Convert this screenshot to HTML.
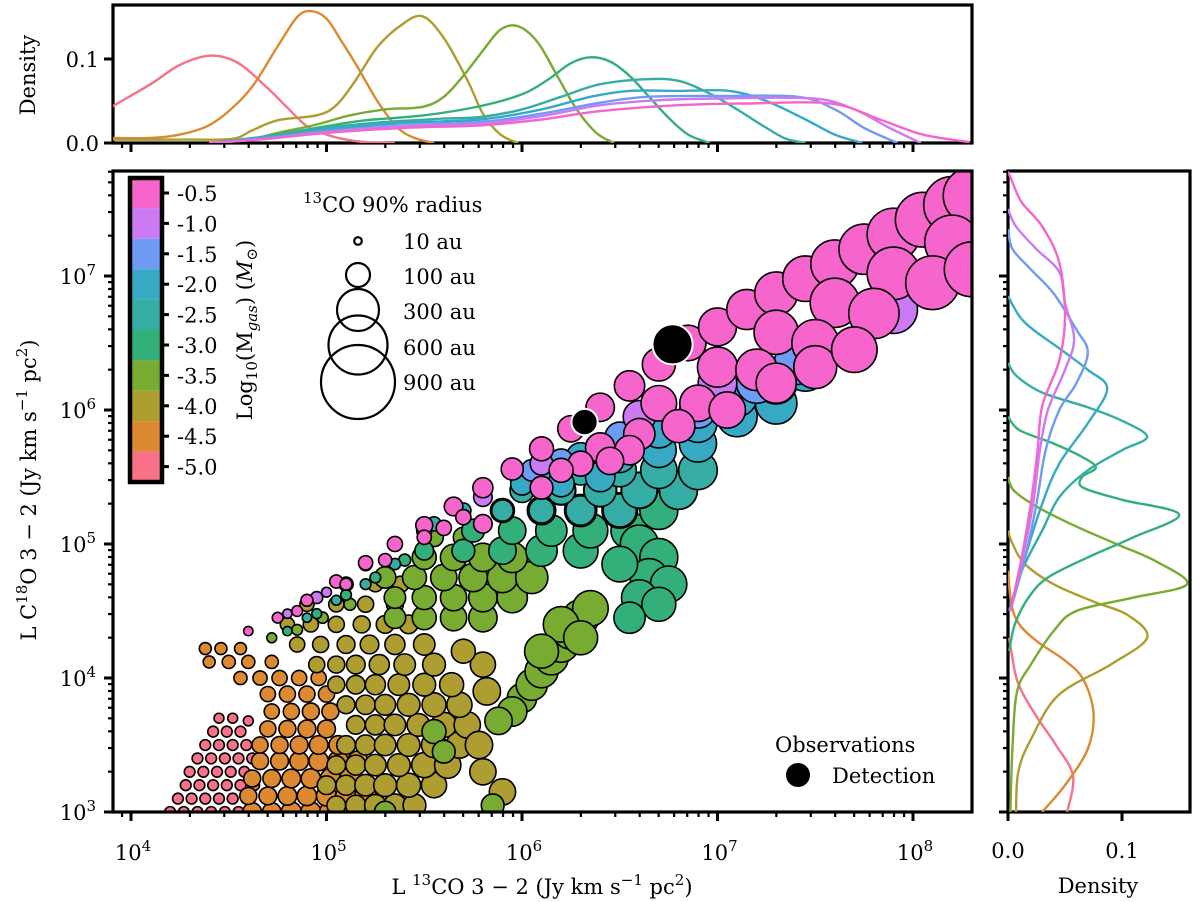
<!DOCTYPE html>
<html><head><meta charset="utf-8"><style>
html,body{margin:0;padding:0;background:#fff}
svg{display:block}
text{font-family:"DejaVu Serif","Liberation Serif",serif;fill:#000}
</style></head><body>
<svg id="chart" width="1200" height="902" viewBox="0 0 1200 902" xmlns="http://www.w3.org/2000/svg">
<g id="scatter"></g>
<g id="frames"></g>
<g id="kdeTop"></g>
<g id="kdeRight"></g>
<g id="ticks"></g>
</svg>
<script>
// ---- data ----
const massClasses=[-0.5,-1.0,-1.5,-2.0,-2.5,-3.0,-3.5,-4.0,-4.5,-5.0];
const classColors=['#f565cc','#cc7af4','#6e9bf4','#38a9c5','#36ada4','#33b07a','#77ab31','#ae9d31','#dc8932','#f77189'];
// scatter: [log10 L13CO, log10 LC18O, log10 Mgas, radius au]
const ptsM50=[[4.2,3.0,-5,20],[4.27,3.0,-5,20],[4.34,3.0,-5,20],[4.41,3.0,-5,20],[4.48,3.0,-5,20],[4.55,3.0,-5,20],
[4.24,3.1,-5,20],[4.31,3.1,-5,20],[4.38,3.1,-5,20],[4.45,3.1,-5,20],[4.52,3.1,-5,20],[4.59,3.1,-5,20],
[4.28,3.2,-5,20],[4.35,3.2,-5,20],[4.42,3.2,-5,20],[4.49,3.2,-5,20],[4.56,3.2,-5,20],[4.63,3.2,-5,20],
[4.3,3.3,-5,20],[4.37,3.3,-5,20],[4.44,3.3,-5,20],[4.51,3.3,-5,20],[4.58,3.3,-5,20],
[4.34,3.4,-5,20],[4.41,3.4,-5,20],[4.48,3.4,-5,20],[4.55,3.4,-5,20],[4.62,3.4,-5,20],
[4.38,3.5,-5,20],[4.45,3.5,-5,20],[4.52,3.5,-5,20],[4.59,3.5,-5,20],
[4.42,3.6,-5,20],[4.49,3.6,-5,20],[4.56,3.6,-5,20],[4.45,3.7,-5,17],[4.52,3.7,-5,17],[4.6,3.68,-5,17]];
const ptsM45=[[4.62,3.0,-4.5,60],[4.72,3.0,-4.5,60],[4.82,3.0,-4.5,70],[4.92,3.0,-4.5,70],[5.02,3.0,-4.5,80],[5.12,3.0,-4.5,80],
[4.6,3.12,-4.5,50],[4.7,3.12,-4.5,55],[4.8,3.12,-4.5,60],[4.9,3.12,-4.5,65],[5.0,3.12,-4.5,70],[5.1,3.12,-4.5,75],[5.2,3.12,-4.5,80],
[4.62,3.25,-4.5,50],[4.72,3.25,-4.5,55],[4.82,3.25,-4.5,60],[4.92,3.25,-4.5,65],[5.02,3.25,-4.5,70],[5.12,3.25,-4.5,75],
[4.66,3.38,-4.5,50],[4.76,3.38,-4.5,55],[4.86,3.38,-4.5,60],[4.96,3.38,-4.5,65],[5.06,3.38,-4.5,70],[5.16,3.38,-4.5,70],
[4.66,3.5,-4.5,45],[4.76,3.5,-4.5,50],[4.86,3.5,-4.5,55],[4.96,3.5,-4.5,60],[5.06,3.5,-4.5,60],
[4.7,3.62,-4.5,45],[4.8,3.62,-4.5,50],[4.9,3.62,-4.5,55],[5.0,3.62,-4.5,55],
[4.72,3.75,-4.5,40],[4.82,3.75,-4.5,45],[4.92,3.75,-4.5,50],[5.02,3.75,-4.5,50],
[4.7,3.88,-4.5,40],[4.8,3.88,-4.5,45],[4.9,3.88,-4.5,45],[5.0,3.88,-4.5,45],
[4.56,4.0,-4.5,30],[4.66,4.0,-4.5,35],[4.76,4.0,-4.5,40],[4.86,4.0,-4.5,40],[4.96,4.0,-4.5,40],
[4.4,4.12,-4.5,25],[4.5,4.12,-4.5,30],[4.6,4.12,-4.5,30],[4.72,4.12,-4.5,30],[4.38,4.22,-4.5,25],[4.46,4.22,-4.5,25],[4.56,4.22,-4.5,25]];
const ptsM40=[[5.05,3.05,-4,60],[5.15,3.05,-4,70],[5.25,3.05,-4,80],[5.35,3.05,-4,90],[5.45,3.05,-4,90],
[5.0,3.2,-4,60],[5.1,3.2,-4,70],[5.2,3.2,-4,80],[5.3,3.2,-4,90],[5.42,3.2,-4,100],[5.55,3.2,-4,110],
[5.05,3.35,-4,60],[5.15,3.35,-4,70],[5.25,3.35,-4,80],[5.37,3.35,-4,90],[5.5,3.35,-4,110],[5.62,3.35,-4,120],
[5.1,3.5,-4,60],[5.2,3.5,-4,70],[5.3,3.5,-4,80],[5.42,3.5,-4,90],[5.55,3.5,-4,110],[5.68,3.5,-4,120],
[5.15,3.65,-4,60],[5.25,3.65,-4,70],[5.35,3.65,-4,80],[5.47,3.65,-4,90],[5.6,3.65,-4,110],[5.72,3.65,-4,120],
[5.1,3.8,-4,55],[5.2,3.8,-4,65],[5.3,3.8,-4,75],[5.42,3.8,-4,90],[5.55,3.8,-4,100],[5.68,3.8,-4,110],
[5.05,3.95,-4,50],[5.15,3.95,-4,60],[5.25,3.95,-4,70],[5.37,3.95,-4,80],[5.5,3.95,-4,90],[5.64,3.95,-4,100],
[4.95,4.1,-4,45],[5.05,4.1,-4,50],[5.15,4.1,-4,60],[5.27,4.1,-4,70],[5.4,4.1,-4,80],[5.55,4.1,-4,90],
[4.85,4.25,-4,40],[4.97,4.25,-4,45],[5.1,4.25,-4,55],[5.22,4.25,-4,60],[5.35,4.25,-4,70],[5.5,4.25,-4,80],
[4.8,4.4,-4,35],[4.92,4.4,-4,40],[5.05,4.4,-4,45],[5.18,4.4,-4,50],[5.3,4.4,-4,55],[5.42,4.4,-4,60],
[4.9,4.55,-4,35],[5.05,4.55,-4,40],[5.2,4.55,-4,45],[5.35,4.55,-4,50],[5.1,4.7,-4,35],[5.25,4.7,-4,40],[5.38,4.7,-4,45],
[5.8,3.3,-4,120],[5.9,3.15,-4,120],[5.78,3.5,-4,130],[5.82,3.9,-4,130],[5.8,4.1,-4,110],[5.7,4.2,-4,100]];
const ptsM35=[[5.35,4.45,-3.5,80],[5.5,4.45,-3.5,100],[5.65,4.45,-3.5,120],[5.8,4.45,-3.5,140],
[5.35,4.6,-3.5,80],[5.5,4.6,-3.5,100],[5.65,4.6,-3.5,120],[5.8,4.6,-3.5,140],[5.95,4.6,-3.5,160],
[5.3,4.75,-3.5,80],[5.45,4.75,-3.5,100],[5.6,4.75,-3.5,120],[5.75,4.75,-3.5,140],[5.9,4.75,-3.5,160],[6.05,4.75,-3.5,180],
[5.5,4.9,-3.5,100],[5.65,4.9,-3.5,120],[5.8,4.9,-3.5,140],[5.95,4.9,-3.5,160],
[5.55,5.05,-3.5,60],[5.7,5.05,-3.5,70],
[4.72,4.3,-3.5,17],[4.85,4.36,-3.5,20],[4.98,4.45,-3.5,22],[5.12,4.55,-3.5,25],
[6.0,3.85,-3.5,150],[6.05,3.95,-3.5,170],[6.1,4.05,-3.5,190],[6.15,4.15,-3.5,200],[6.2,4.25,-3.5,220],[6.25,4.35,-3.5,230],[6.3,4.45,-3.5,230],[6.35,4.52,-3.5,220],[6.2,4.4,-3.5,220],[6.1,4.2,-3.5,200],[5.95,3.75,-3.5,150],[5.88,3.68,-3.5,130],[6.3,4.3,-3.5,200],
[5.55,3.6,-3.5,100],[5.6,3.45,-3.5,90],[5.85,3.05,-3.5,90],[5.3,3.0,-3.5,80]];
const ptsM30=[[5.5,4.95,-3,60],[5.7,4.95,-3,90],[5.9,4.95,-3,130],[6.1,4.95,-3,170],[6.3,4.95,-3,210],
[5.75,5.1,-3,90],[5.95,5.1,-3,130],[6.15,5.1,-3,170],[6.35,5.1,-3,210],[6.55,5.1,-3,240],
[5.9,5.25,-3,100],[6.1,5.25,-3,140],[6.3,5.25,-3,180],[6.5,5.25,-3,220],[6.7,5.25,-3,250],
[6.2,5.4,-3,150],[6.4,5.4,-3,190],[6.6,5.4,-3,230],[6.8,5.4,-3,250],
[6.6,5.0,-3,250],[6.7,4.9,-3,250],[6.65,4.75,-3,250],[6.75,4.7,-3,230],[6.6,4.6,-3,220],[6.7,4.55,-3,200],[6.55,4.45,-3,170],[6.5,4.85,-3,220],
[4.8,4.35,-3,15],[4.95,4.48,-3,17],[5.1,4.62,-3,20],[5.25,4.75,-3,20],[5.4,4.88,-3,25]];
const ptsM25=[[5.9,5.25,-2.5,80],[6.1,5.25,-2.5,110],[6.3,5.25,-2.5,150],[6.5,5.25,-2.5,190],
[6.0,5.4,-2.5,100],[6.2,5.4,-2.5,140],[6.4,5.4,-2.5,180],[6.6,5.4,-2.5,220],[6.8,5.4,-2.5,250],
[6.1,5.55,-2.5,110],[6.3,5.55,-2.5,150],[6.5,5.55,-2.5,190],[6.7,5.55,-2.5,230],[6.9,5.55,-2.5,260],
[5.55,5.15,-2.5,35],[5.7,5.25,-2.5,40],
[4.9,4.45,-2.5,15],[5.05,4.58,-2.5,17],[5.2,4.7,-2.5,20],[5.35,4.85,-2.5,22]];
const ptsM20=[[6.0,5.45,-2,90],[6.2,5.45,-2,120],[6.4,5.5,-2,150],
[6.3,5.65,-2,140],[6.5,5.65,-2,170],[6.7,5.7,-2,210],[6.9,5.75,-2,240],
[6.7,5.85,-2,220],[6.9,5.9,-2,250],[7.1,5.95,-2,280],[7.3,6.05,-2,300],
[7.1,6.1,-2,280],[7.3,6.2,-2,300],[7.45,6.3,-2,320]];
const ptsM15=[[6.05,5.55,-1.5,80],[6.2,5.62,-1.5,100],[6.5,5.8,-1.5,150],[6.9,6.0,-1.5,230],[7.2,6.2,-1.5,280],[7.4,6.35,-1.5,320]];
const ptsM10=[[4.8,4.48,-1,15],[5.0,4.64,-1,17],[4.95,4.6,-1,25],[5.2,4.85,-1,30],[5.5,5.1,-1,40],[5.8,5.35,-1,60],[6.1,5.6,-1,90],[6.6,5.95,-1,180],[7.0,6.2,-1,260],[7.5,6.5,-1,340],[7.9,6.75,-1,400]];
const ptsM05=[[4.75,4.45,-0.5,20],[4.9,4.58,-0.5,25],[5.05,4.72,-0.5,30],[5.2,4.86,-0.5,35],[5.35,5.0,-0.5,40],[5.5,5.14,-0.5,50],[5.65,5.28,-0.5,60],[5.8,5.42,-0.5,70],[5.95,5.56,-0.5,85],[6.1,5.71,-0.5,100],[6.25,5.86,-0.5,120],[6.4,6.02,-0.5,140],[6.55,6.18,-0.5,160],[6.7,6.34,-0.5,190],[6.85,6.5,-0.5,220],[7.0,6.62,-0.5,250],[7.15,6.75,-0.5,280],[7.3,6.87,-0.5,320],[7.45,6.98,-0.5,360],[7.6,7.09,-0.5,400],[7.75,7.2,-0.5,440],[7.9,7.31,-0.5,480],[8.05,7.42,-0.5,520],[8.2,7.53,-0.5,560],[8.3,7.6,-0.5,560],
[5.8,5.15,-0.5,60],[6.1,5.42,-0.5,90],[6.4,5.72,-0.5,150],[6.7,6.05,-0.5,220],[7.0,6.32,-0.5,280],[7.3,6.58,-0.5,340],[7.6,6.8,-0.5,420],[7.9,7.02,-0.5,480],[8.2,7.25,-0.5,520],
[6.6,5.82,-0.5,170],[6.9,6.05,-0.5,230],[7.2,6.3,-0.5,300],[7.5,6.5,-0.5,380],[7.8,6.72,-0.5,440],[8.1,6.95,-0.5,500],[8.3,7.05,-0.5,520],
[6.3,5.6,-0.5,110],[6.55,5.7,-0.5,150],[6.8,5.88,-0.5,190],[7.05,6.0,-0.5,230],[6.2,5.55,-0.5,100],[6.45,5.62,-0.5,130],
[7.3,6.2,-0.5,280],[7.5,6.32,-0.5,320],[7.7,6.45,-0.5,360],
[4.6,4.35,-0.5,15],[4.85,4.5,-0.5,20],[5.1,4.7,-0.5,25],[5.3,4.88,-0.5,30],[5.5,5.05,-0.5,35],[5.7,5.2,-0.5,40],[5.6,5.12,-0.5,40]];
const detections=[[6.32,5.91,120],[6.77,6.49,280]];
// top KDE
const topX={red:[3.9,4.1,4.25,4.41,4.55,4.7,4.8,4.9,5.0,5.1,5.2,5.35],orange:[3.9,4.1,4.25,4.39,4.5,4.62,4.75,4.85,4.92,5.0,5.08,5.16,5.26,5.36,5.45,5.55],olive:[3.9,4.3,4.52,4.62,4.75,4.95,5.05,5.15,5.26,5.38,5.49,5.6,5.72,5.8,5.89,5.98],g35:[4.4,4.6,4.75,4.95,5.12,5.3,5.49,5.6,5.7,5.8,5.89,5.98,6.08,6.18,6.28,6.38,6.47],g30:[4.4,4.6,4.8,5.0,5.2,5.5,5.79,6.0,6.13,6.25,6.35,6.45,6.55,6.65,6.75,6.85,6.96],teal:[4.4,4.7,5.0,5.3,5.6,5.79,6.0,6.2,6.4,6.64,6.8,6.95,7.1,7.25,7.35,7.45],cyan:[4.4,4.7,5.0,5.4,5.79,6.1,6.35,6.55,6.8,7.06,7.25,7.45,7.6,7.74],blue:[4.4,4.7,5.0,5.4,5.79,6.1,6.4,6.64,7.0,7.41,7.6,7.75,7.92],violet:[4.4,4.7,5.0,5.4,5.79,6.1,6.4,6.7,7.0,7.49,7.7,7.88,8.04],pink:[4.4,4.7,5.0,5.4,5.79,6.1,6.4,6.8,7.15,7.58,7.83,8.05,8.29]};
const topD={red:[.043,.07,.093,.104,.095,.065,.042,.02,.01,.004,.001,0],orange:[.006,.006,.01,.02,.038,.067,.115,.15,.157,.148,.12,.09,.05,.019,.006,0],olive:[.004,.004,.005,.015,.027,.033,.045,.075,.114,.14,.151,.125,.075,.035,.01,0],g35:[0,.004,.012,.022,.033,.04,.043,.055,.08,.11,.135,.139,.12,.08,.04,.012,0],g30:[0,.005,.012,.02,.027,.033,.044,.058,.075,.095,.102,.097,.08,.055,.03,.01,0],teal:[0,.008,.018,.025,.029,.031,.04,.055,.07,.076,.074,.06,.04,.018,.005,0],cyan:[0,.007,.016,.024,.028,.04,.055,.062,.062,.062,.05,.028,.01,0],blue:[0,.006,.014,.021,.025,.035,.048,.055,.056,.055,.04,.018,0],violet:[0,.005,.013,.02,.023,.032,.045,.051,.053,.053,.04,.018,0],pink:[0,.005,.012,.018,.021,.028,.038,.045,.047,.047,.028,.01,.001]};
// right KDE
const rightY={red:[3.0,3.27,3.5,3.7,3.9,4.05,4.3],orange:[3.0,3.2,3.47,3.74,3.99,4.13,4.27,4.4,4.55,4.8],olive:[3.0,3.3,3.54,3.87,4.1,4.3,4.47,4.57,4.7,4.85,5.0,5.1],g35:[3.0,3.5,3.9,4.1,4.35,4.5,4.6,4.7,4.87,5.0,5.15,5.28,5.4,5.5],g30:[4.2,4.4,4.6,4.75,4.9,5.05,5.22,5.33,5.42,5.5,5.57,5.65,5.75,5.85,5.95],teal:[4.5,4.8,5.1,5.35,5.55,5.7,5.8,5.92,6.02,6.13,6.25,6.35],cyan:[4.5,4.9,5.3,5.6,5.9,6.16,6.3,6.46,6.6,6.7,6.85],blue:[4.5,4.9,5.3,5.7,6.0,6.2,6.43,6.6,6.87,7.05,7.2,7.35],violet:[4.5,4.9,5.3,5.7,6.0,6.3,6.53,6.8,7.03,7.2,7.37,7.5],pink:[4.5,4.9,5.3,5.7,6.03,6.37,6.7,7.1,7.37,7.55,7.72,7.78]};
const rightD={red:[.052,.057,.042,.026,.012,.006,.001],orange:[.03,.05,.07,.075,.066,.05,.026,.01,.003,0],olive:[.007,.009,.02,.044,.09,.122,.105,.075,.04,.015,.004,0],g35:[.002,.004,.008,.02,.04,.06,.11,.157,.13,.095,.055,.025,.005,0],g30:[.001,.006,.018,.035,.07,.11,.15,.1,.066,.065,.077,.065,.04,.01,0],teal:[.001,.012,.03,.045,.07,.1,.122,.1,.07,.03,.008,0],cyan:[.002,.015,.03,.045,.07,.087,.07,.045,.022,.01,0],blue:[.002,.015,.025,.033,.045,.06,.07,.06,.04,.02,.004,0],violet:[.002,.013,.022,.028,.035,.05,.058,.05,.045,.025,.007,0],pink:[.002,.012,.02,.026,.03,.045,.05,.045,.03,.012,.003,0]};
const kdeOrder=['red','orange','olive','g35','g30','teal','cyan','blue','violet','pink'];
const kdeColors={red:'#f77189',orange:'#dc8932',olive:'#ae9d31',g35:'#77ab31',g30:'#33b07a',teal:'#36ada4',cyan:'#38a9c5',blue:'#6e9bf4',violet:'#cc7af4',pink:'#f565cc'};
const xTickExp=[4,5,6,7,8];
const yTickExp=[3,4,5,6,7];

// ---- axes ----
const NS='http://www.w3.org/2000/svg';
const X0=131,DEC=195.5;
const xs=l=>X0+(l-4)*DEC;
const ys=l=>812-(l-3)*134;
const topY=d=>143-d*840;
const rightX=d=>1008+d*1140;
const rad=au=>1.2*Math.sqrt(au);
function mk(tag,attrs,parent){const e=document.createElementNS(NS,tag);for(const k in attrs)e.setAttribute(k,attrs[k]);parent.appendChild(e);return e;}
function colorFor(m){return classColors[massClasses.indexOf(m)];}
function smooth(pts){let d='M'+pts[0][0].toFixed(1)+','+pts[0][1].toFixed(1);
 for(let i=0;i<pts.length-1;i++){const p0=pts[Math.max(0,i-1)],p1=pts[i],p2=pts[i+1],p3=pts[Math.min(pts.length-1,i+2)];
 const c1=[p1[0]+(p2[0]-p0[0])/6,p1[1]+(p2[1]-p0[1])/6],c2=[p2[0]-(p3[0]-p1[0])/6,p2[1]-(p3[1]-p1[1])/6];
 d+='C'+c1.map(v=>v.toFixed(1)).join(',')+' '+c2.map(v=>v.toFixed(1)).join(',')+' '+p2[0].toFixed(1)+','+p2[1].toFixed(1);}return d;}

const defs=mk('defs',{},document.getElementById('chart'));
const cp=mk('clipPath',{id:'mainclip'},defs);mk('rect',{x:113,y:171,width:859,height:641},cp);
const cpt=mk('clipPath',{id:'topclip'},defs);mk('rect',{x:113,y:5,width:859,height:138},cpt);
const cpr=mk('clipPath',{id:'rightclip'},defs);mk('rect',{x:1008,y:171,width:182,height:641},cpr);

const sc=document.getElementById('scatter');sc.setAttribute('clip-path','url(#mainclip)');
const allSeries=[ptsM50,ptsM45,ptsM40,ptsM35,ptsM30,ptsM25,ptsM20,ptsM15,ptsM10,ptsM05];
allSeries.forEach(series=>series.forEach(p=>{
 const c=mk('circle',{cx:xs(p[0]),cy:ys(p[1]),r:rad(p[3]),fill:colorFor(p[2]),stroke:'#000','stroke-width':1.6},sc);
 
 
}));
detections.forEach(p=>{
 const c=mk('circle',{cx:xs(p[0]),cy:ys(p[1]),r:rad(p[2]),fill:'#000',stroke:'#fff','stroke-width':2},sc);
 
 
});

const kt=document.getElementById('kdeTop');kt.setAttribute('clip-path','url(#topclip)');
kdeOrder.forEach(k=>{const pts=topX[k].map((x,i)=>[xs(x),topY(topD[k][i])]);
 const p=mk('path',{d:smooth(pts),fill:'none',stroke:kdeColors[k],'stroke-width':2.4},kt);
 
 });
const kr=document.getElementById('kdeRight');kr.setAttribute('clip-path','url(#rightclip)');
kdeOrder.forEach(k=>{const pts=rightY[k].map((y,i)=>[rightX(rightD[k][i]),ys(y)]);
 const p=mk('path',{d:smooth(pts),fill:'none',stroke:kdeColors[k],'stroke-width':2.4},kr);
 
 });

const fr=document.getElementById('frames');
[[113,171,859,641,'main-frame'],[113,5,859,138,'top-frame'],[1008,171,182,641,'right-frame']].forEach(f=>{
 const r=mk('rect',{x:f[0],y:f[1],width:f[2],height:f[3],fill:'none',stroke:'#000','stroke-width':3.2},fr);
 });

const tk=document.getElementById('ticks');
function line(x1,y1,x2,y2,w){mk('line',{x1,y1,x2,y2,stroke:'#000','stroke-width':w},tk);}
function sup(x,y,base,exp,anchor){const t=mk('text',{x,y,'font-size':21,'text-anchor':anchor},tk);t.textContent=base;
 const s=mk('tspan',{'font-size':15,dy:-9},t);s.textContent=exp;return t;}
const xMin=3.908,xMax=8.30;
for(let e=3;e<=8;e++)for(let m=1;m<10;m++){const l=e+Math.log10(m);if(l<xMin||l>xMax)continue;
 const x=xs(l),len=m==1?9:5,w=m==1?3:2.2;line(x,812,x,812+len,w);line(x,143,x,143+len,w);}
xTickExp.forEach(e=>{const t=sup(xs(e)+2,860,'10',e,'middle');});
for(let e=3;e<=7;e++)for(let m=1;m<10;m++){const l=e+Math.log10(m);if(l>7.78)continue;
 const y=ys(l),len=m==1?9:5,w=m==1?3:2.2;line(113-len,y,113,y,w);line(1008-len,y,1008,y,w);}
yTickExp.forEach(e=>{const t=sup(96,ys(e)+8,'10',e,'end');});
[[0,'0.0'],[0.1,'0.1']].forEach(d=>{line(104,topY(d[0]),113,topY(d[0]),3);
 const t=mk('text',{x:99,y:topY(d[0])+8,'font-size':21,'text-anchor':'end'},tk);t.textContent=d[1];
 line(rightX(d[0]),812,rightX(d[0]),821,3);
 const t2=mk('text',{x:rightX(d[0]),y:858,'font-size':21,'text-anchor':'middle'},tk);t2.textContent=d[1];});
</script>
<svg style="position:absolute;left:0;top:0" width="1200" height="902" xmlns="http://www.w3.org/2000/svg">
<text x="542" y="894" font-size="21" text-anchor="middle" font-family="DejaVu Serif, serif">L <tspan font-size="15" dy="-9">13</tspan><tspan dy="9">CO 3 − 2 (Jy km s</tspan><tspan font-size="15" dy="-9">−1</tspan><tspan dy="9"> pc</tspan><tspan font-size="15" dy="-9">2</tspan><tspan dy="9">)</tspan></text>
<text transform="translate(36,490) rotate(-90)" font-size="21" text-anchor="middle" font-family="DejaVu Serif, serif">L C<tspan font-size="15" dy="-9">18</tspan><tspan dy="9">O 3 − 2 (Jy km s</tspan><tspan font-size="15" dy="-9">−1</tspan><tspan dy="9"> pc</tspan><tspan font-size="15" dy="-9">2</tspan><tspan dy="9">)</tspan></text>
<text transform="translate(35,75) rotate(-90)" font-size="21" text-anchor="middle" font-family="DejaVu Serif, serif">Density</text>
<text x="1098" y="893" font-size="21" text-anchor="middle" font-family="DejaVu Serif, serif">Density</text>
<g>
<rect x="130" y="178" width="32" height="30.4" fill="#f565cc"/><rect x="130" y="208.4" width="32" height="30.4" fill="#cc7af4"/><rect x="130" y="238.8" width="32" height="30.4" fill="#6e9bf4"/><rect x="130" y="269.2" width="32" height="30.4" fill="#38a9c5"/><rect x="130" y="299.6" width="32" height="30.4" fill="#36ada4"/><rect x="130" y="330" width="32" height="30.4" fill="#33b07a"/><rect x="130" y="360.4" width="32" height="30.4" fill="#77ab31"/><rect x="130" y="390.8" width="32" height="30.4" fill="#ae9d31"/><rect x="130" y="421.2" width="32" height="30.4" fill="#dc8932"/><rect x="130" y="451.6" width="32" height="30.4" fill="#f77189"/>
<rect x="130" y="178" width="32" height="304" fill="none" stroke="#000" stroke-width="4.5"/>
<g stroke="#000" stroke-width="3"><line x1="162" y1="193" x2="169" y2="193"/><line x1="162" y1="223.4" x2="169" y2="223.4"/><line x1="162" y1="253.8" x2="169" y2="253.8"/><line x1="162" y1="284.2" x2="169" y2="284.2"/><line x1="162" y1="314.6" x2="169" y2="314.6"/><line x1="162" y1="345" x2="169" y2="345"/><line x1="162" y1="375.4" x2="169" y2="375.4"/><line x1="162" y1="405.8" x2="169" y2="405.8"/><line x1="162" y1="436.2" x2="169" y2="436.2"/><line x1="162" y1="466.6" x2="169" y2="466.6"/></g>
<g font-size="21" font-family="DejaVu Serif, serif"><text x="177" y="201">-0.5</text><text x="177" y="231.4">-1.0</text><text x="177" y="261.8">-1.5</text><text x="177" y="292.2">-2.0</text><text x="177" y="322.6">-2.5</text><text x="177" y="353">-3.0</text><text x="177" y="383.4">-3.5</text><text x="177" y="413.8">-4.0</text><text x="177" y="444.2">-4.5</text><text x="177" y="474.6">-5.0</text></g>
<text transform="translate(252,330) rotate(-90)" font-size="21" text-anchor="middle" font-family="DejaVu Serif, serif">Log<tspan font-size="15" dy="5">10</tspan><tspan dy="-5">(M</tspan><tspan font-size="15" dy="5" font-style="italic">gas</tspan><tspan dy="-5">) (</tspan><tspan font-style="italic">M</tspan><tspan font-size="15" dy="5">⊙</tspan><tspan dy="-5">)</tspan></text>
</g>
<g font-family="DejaVu Serif, serif" font-size="21">
<text x="303" y="212"><tspan font-size="15" dy="-9">13</tspan><tspan dy="9">CO 90% radius</tspan></text>
<g fill="none" stroke="#000" stroke-width="2.2">
<circle cx="358" cy="241" r="3.8"/><circle cx="358" cy="275" r="12"/><circle cx="358" cy="310" r="21"/><circle cx="358" cy="345" r="29.5"/><circle cx="358" cy="382" r="37"/></g>
<text x="403" y="249">10 au</text><text x="403" y="284">100 au</text><text x="403" y="319">300 au</text><text x="403" y="355">600 au</text><text x="403" y="390">900 au</text>
</g>
<g font-family="DejaVu Serif, serif" font-size="21">
<text x="775" y="752">Observations</text>
<circle cx="798" cy="775" r="12" fill="#000"/>
<text x="832" y="783">Detection</text>
</g>
</svg>
</body></html>
